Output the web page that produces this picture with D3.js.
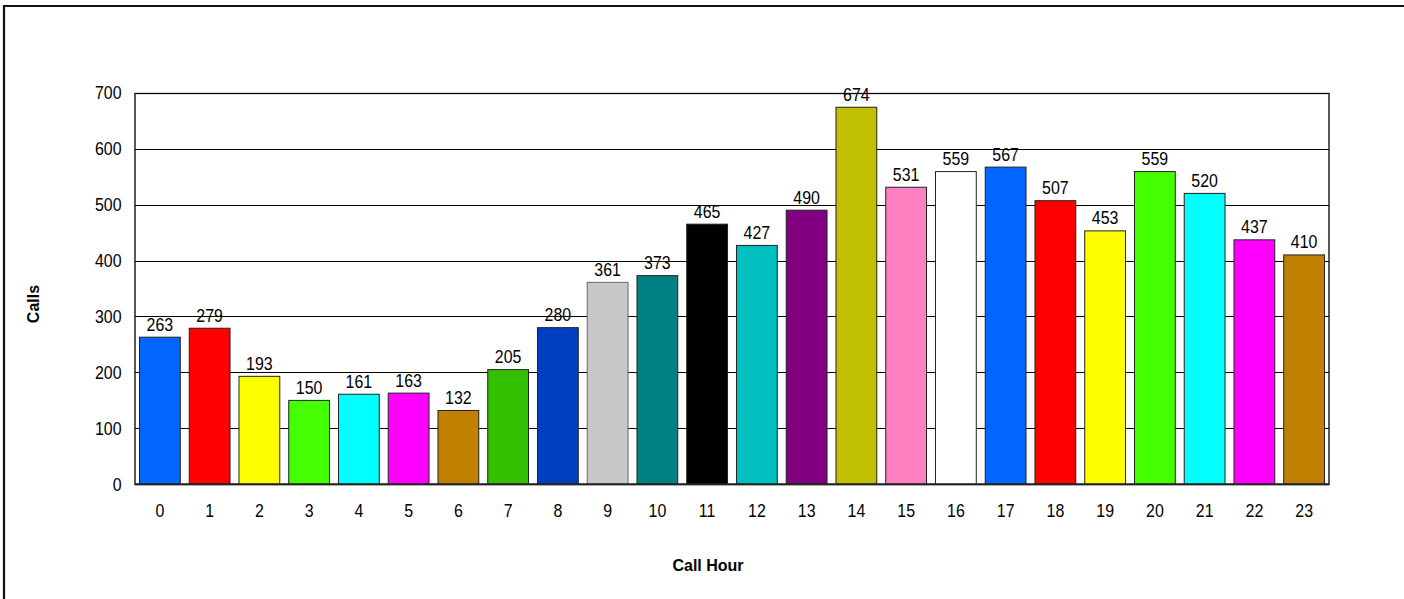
<!DOCTYPE html>
<html><head><meta charset="utf-8">
<script src="https://cdn.jsdelivr.net/npm/d3@7"></script>
<style>
html,body{margin:0;padding:0;background:#fff;overflow:hidden;}
text{font-family:"Liberation Sans",Arial,sans-serif;fill:#000;}
</style></head>
<body>
<svg id="chart" width="1404" height="599"></svg>
<script>
const hours = ["0","1","2","3","4","5","6","7","8","9","10","11","12","13","14","15","16","17","18","19","20","21","22","23"];
const calls = [263,279,193,150,161,163,132,205,280,361,373,465,427,490,674,531,559,567,507,453,559,520,437,410];
const barColors = ["#0066FF","#FF0000","#FFFF00","#44FF00","#00FFFF","#FF00FF","#C08000","#33C000","#0040C0","#C8C8C8","#008080","#000000","#00C0C0","#800080","#C0C000","#FF80C0","#FFFFFF","#0066FF","#FF0000","#FFFF00","#44FF00","#00FFFF","#FF00FF","#C08000"];
const yTicks = [0,100,200,300,400,500,600,700];
const xTitle = "Call Hour";
const yTitle = "Calls";

const svg = d3.select("#chart");
const plot = {left:135, right:1329, top:92.7, bottom:484.3};

// outer frame (only top and left edges are inside the view)
svg.append("line").attr("x1",4).attr("x2",1404).attr("y1",6).attr("y2",6)
  .attr("stroke","#111").attr("stroke-width",2.2);
svg.append("line").attr("x1",4).attr("x2",4).attr("y1",5).attr("y2",599)
  .attr("stroke","#111").attr("stroke-width",2.2);

const x = d3.scaleBand().domain(hours).range([plot.left, plot.right])
  .paddingInner(0.18).paddingOuter(0.09);
const y = d3.scaleLinear().domain([0,700]).range([plot.bottom, plot.top]);

// gridlines
svg.append("g").selectAll("line").data(yTicks.filter(t=>t>0 && t<700)).join("line")
  .attr("x1",plot.left).attr("x2",plot.right)
  .attr("y1",d=>Math.round(y(d))+0.5).attr("y2",d=>Math.round(y(d))+0.5)
  .attr("stroke","#000").attr("stroke-width",1);

// plot border
svg.append("rect").attr("x",plot.left).attr("y",Math.round(plot.top)+0.5)
  .attr("width",plot.right-plot.left).attr("height",Math.round(plot.bottom)-Math.round(plot.top))
  .attr("fill","none").attr("stroke","#000").attr("stroke-width",1.3);

// bars
svg.append("g").selectAll("rect").data(calls).join("rect")
  .attr("x",(d,i)=>x(hours[i]))
  .attr("y",d=>y(d))
  .attr("width",x.bandwidth())
  .attr("height",d=>y(0)-y(d))
  .attr("fill",(d,i)=>barColors[i])
  .attr("stroke",(d,i)=> i===9 ? "#666" : "#222").attr("stroke-width",1);

// baseline
svg.append("line").attr("x1",plot.left).attr("x2",plot.right)
  .attr("y1",y(0)).attr("y2",y(0)).attr("stroke","#222").attr("stroke-width",2);

function txt(g, tx, ty, s, anchor, size, weight){
  return g.append("text")
    .attr("transform",`translate(${tx},${ty}) scale(0.91,1)`)
    .attr("text-anchor",anchor).attr("font-size",size).attr("font-weight",weight||"normal")
    .text(s);
}

// value labels
const vl = svg.append("g");
calls.forEach((d,i)=>{
  txt(vl, x(hours[i])+x.bandwidth()/2, y(d)-6.5, String(d), "middle", "17.5px");
});

// y tick labels
const yl = svg.append("g");
yTicks.forEach(t=>{
  txt(yl, 121.5, y(t)+6.3, String(t), "end", "17.5px");
});

// x tick labels
const xl = svg.append("g");
hours.forEach(h=>{
  txt(xl, x(h)+x.bandwidth()/2, 517, h, "middle", "17.5px");
});

// titles
svg.append("text").attr("x",708).attr("y",571).attr("text-anchor","middle")
  .attr("font-size","16px").attr("font-weight","bold").text(xTitle);
svg.append("text").attr("transform","translate(39,304) rotate(-90)").attr("text-anchor","middle")
  .attr("font-size","16px").attr("font-weight","bold").text(yTitle);
</script>
</body></html>
